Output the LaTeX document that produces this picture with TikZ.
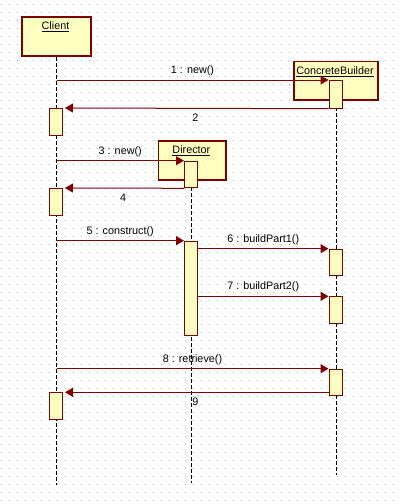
\documentclass[tikz,border=0pt]{standalone}
\usepackage{fontspec}
\setmainfont{Liberation Sans}
\usetikzlibrary{arrows.meta}
\definecolor{umlred}{HTML}{800000}
\definecolor{umlfill}{HTML}{FFFFC0}
\definecolor{griddot}{HTML}{ABABAB}
\begin{document}
\begin{tikzpicture}[x=1pt,y=-1pt,
  head/.style={draw=umlred, line width=1.5pt, fill=umlfill, rectangle, inner sep=0pt, anchor=north west},
  act/.style={draw=umlred, line width=1pt, fill=umlfill, rectangle, inner sep=0pt, minimum width=13pt, anchor=north},
  life/.style={black, line width=1pt, dash pattern=on 4pt off 2pt},
  msg/.style={umlred, line width=1pt, -{Triangle[length=8pt,width=9pt]}},
  ret/.style={msg, shorten >=2.5pt},
  lbl/.style={text=black, font=\fontsize{10.8}{12}\selectfont, inner sep=0pt, text height=7.7pt, text depth=2pt},
  above lbl/.style={lbl, midway, yshift=9.5pt},
  below lbl/.style={lbl, midway, yshift=-10.5pt},
  ]
% canvas and dotted grid
\fill[white] (0,0) rectangle (401,504);
\useasboundingbox (0,0) rectangle (401,504);
\foreach \k in {0,...,62}
  \draw[griddot, line width=1pt, dash pattern=on 1pt off 7pt] (1,{4.5+8*\k}) -- (401,{4.5+8*\k});

% object heads
\node[head, minimum width=69pt, minimum height=39pt] (client) at (21,16) {};
\node[lbl] (clientname) at (55.5,27) {\underline{Client}};
\node[head, minimum width=84pt, minimum height=38.3pt] (builder) at (293,60.7) {};
\node[lbl] (buildername) at (335,71.5) {\underline{ConcreteBuilder}};
\node[head, minimum width=67.3pt, minimum height=39pt] (director) at (157.7,140) {};
\node[lbl] (directorname) at (191.4,151) {\underline{Director}};

% lifelines
\coordinate (clientend) at (56.5,485);
\coordinate (directorend) at (191.5,483);
\coordinate (builderend) at (336,475);
\draw[life] (client.south -| clientend) -- (clientend);
\draw[life] (director.south -| directorend) -- (directorend);
\draw[life] (builder.south -| builderend) -- (builderend);

% activations
\node[act, minimum height=27pt] (ca1) at (55.5,108) {};
\node[act, minimum height=27pt] (ca2) at (55.5,188) {};
\node[act, minimum height=27pt] (ca3) at (55.5,392.3) {};
\node[act, minimum height=26.6pt] (d1) at (191,160.7) {};
\node[act, minimum height=94.6pt] (d2) at (191,240.7) {};
\node[act, minimum height=27.7pt] (b1) at (335.5,80) {};
\node[act, minimum height=26.6pt] (b2) at (335.5,248.7) {};
\node[act, minimum height=26.7pt] (b3) at (335.5,296.3) {};
\node[act, minimum height=26.6pt] (b4) at (335.5,368.7) {};

% message origins on the client lifeline
\coordinate (s1) at (56.5,80);
\coordinate (s3) at (56.5,160.7);
\coordinate (s5) at (56.5,240.7);
\coordinate (s8) at (56.5,368.7);

% messages
\draw[msg] (s1) -- node[above lbl] (l1) {1 : new()} (b1.north west);
\draw[ret] (b1.south west) -- node[below lbl] (l2) {2} (ca1.north east);
\draw[msg] (s3) -- node[above lbl] (l3) {3 : new()} (d1.north west);
\draw[ret] (d1.south west) -- node[below lbl] (l4) {4} (ca2.north east);
\draw[msg] (s5) -- node[above lbl] (l5) {5 : construct()} (d2.north west);
\draw[msg] (b2.north west -| d2.east) -- node[above lbl] (l6) {6 : buildPart1()} (b2.north west);
\draw[msg] (b3.north west -| d2.east) -- node[above lbl] (l7) {7 : buildPart2()} (b3.north west);
\draw[msg] (s8) -- node[above lbl] (l8) {8 : retrieve()} (b4.north west);
\draw[ret] (ca3.north east -| b4.west) -- node[below lbl] (l9) {9} (ca3.north east);
\end{tikzpicture}
\end{document}
